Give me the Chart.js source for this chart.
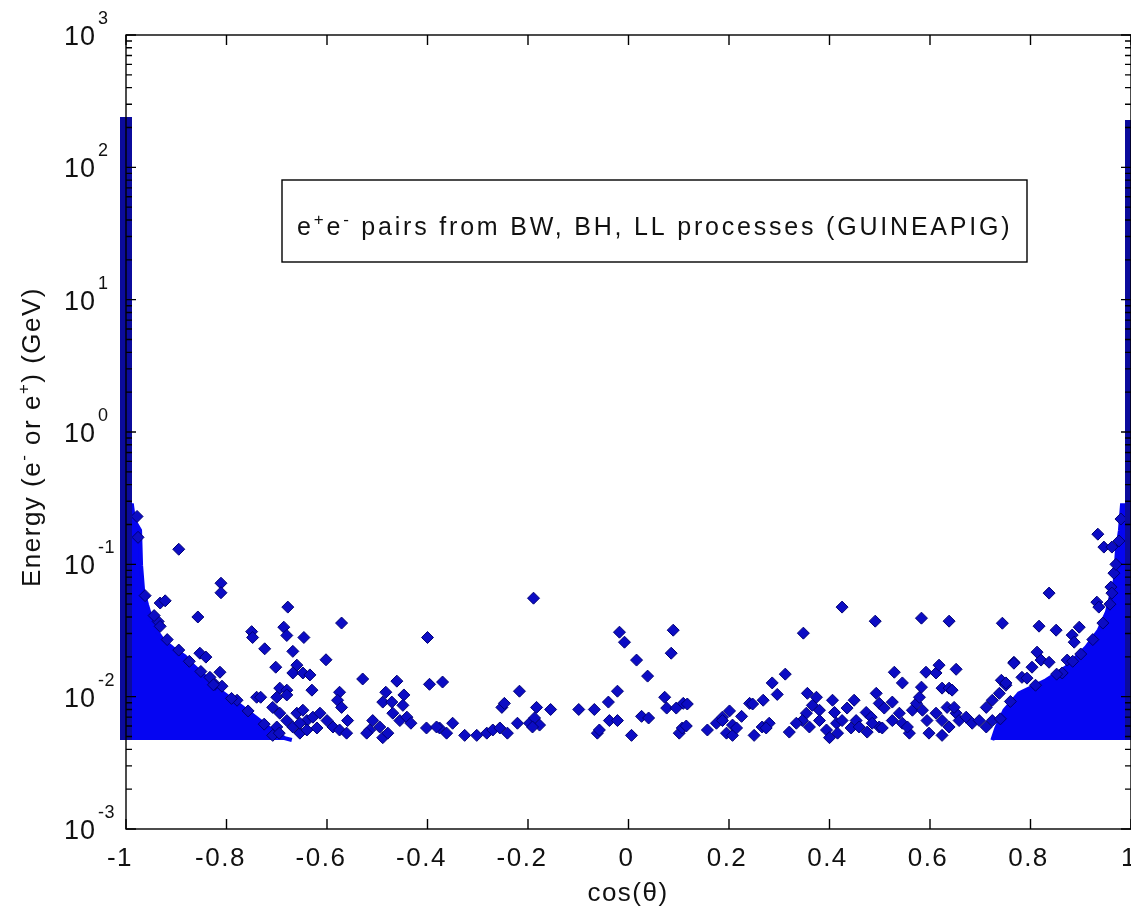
<!DOCTYPE html>
<html>
<head>
<meta charset="utf-8">
<script src="https://cdn.jsdelivr.net/npm/chart.js@4.4.0/dist/chart.umd.min.js"></script>
<style>
  html, body { margin: 0; padding: 0; background: #fff; overflow: hidden; }
  #wrap { width: 1138px; height: 916px; }
</style>
</head>
<body>
<div id="wrap"><canvas id="plot" width="1138" height="916"></canvas></div>
<script>
// tick values
const xTicks = [-1, -0.8, -0.6, -0.4, -0.2, 0, 0.2, 0.4, 0.6, 0.8, 1];
const yDecades = [-3, -2, -1, 0, 1, 2, 3];

// lowest energy reached by the markers (GeV)
const energyFloor = 0.0047;

// the two columns of points packed at cos = -1 and cos = +1
const spikeCos = [-1, 1];
const spikeTop = [240, 228];

// outline of the dense clouds near the beam axis  [cos, E]
const leftCloud = [
  [-1, 0.28], [-0.988, 0.28], [-0.984, 0.216], [-0.972, 0.181], [-0.970, 0.0986],
  [-0.966, 0.0638], [-0.958, 0.0492], [-0.948, 0.0366], [-0.936, 0.0302],
  [-0.926, 0.0267], [-0.907, 0.0233], [-0.883, 0.0202], [-0.867, 0.0173],
  [-0.839, 0.0138], [-0.809, 0.0108], [-0.773, 0.0086], [-0.740, 0.0069],
  [-0.710, 0.0056], [-0.684, 0.00485], [-0.670, 0.0047]
];
const rightCloud = [
  [0.724, 0.0047], [0.732, 0.0058], [0.748, 0.0079], [0.777, 0.0106], [0.831, 0.0133],
  [0.871, 0.0167], [0.911, 0.0237], [0.936, 0.0318], [0.952, 0.0435], [0.968, 0.076],
  [0.972, 0.128], [0.978, 0.181], [0.982, 0.28], [1, 0.28]
];

// individual pairs outside the clouds  [cos, E]
const leftTail = [
  [-0.895, 0.130], [-0.811, 0.072], [-0.811, 0.061], [-0.932, 0.051], [-0.922, 0.053],
  [-0.936, 0.037], [-0.932, 0.034], [-0.857, 0.040], [-0.678, 0.0475], [-0.571, 0.036],
  [-0.750, 0.031], [-0.748, 0.028], [-0.686, 0.0335], [-0.680, 0.029], [-0.646, 0.028],
  [-0.724, 0.023], [-0.668, 0.022], [-0.602, 0.019], [-0.702, 0.0167], [-0.660, 0.0173],
  [-0.668, 0.0151], [-0.648, 0.0151], [-0.634, 0.0146], [-0.400, 0.028], [-0.529, 0.0136],
  [-0.461, 0.0131], [-0.396, 0.0124], [-0.370, 0.0129], [-0.630, 0.0112], [-0.575, 0.0108],
  [-0.579, 0.0094], [-0.571, 0.0083], [-0.483, 0.0108], [-0.489, 0.0091], [-0.471, 0.0091],
  [-0.447, 0.0103], [-0.449, 0.0086], [-0.779, 0.0094], [-0.740, 0.0099], [-0.732, 0.0099],
  [-0.833, 0.0140], [-0.813, 0.0153], [-0.823, 0.0124], [-0.809, 0.0120], [-0.853, 0.0213],
  [-0.841, 0.0199], [-0.694, 0.0116], [-0.680, 0.0112], [-0.700, 0.0099], [-0.680, 0.0103],
  [-0.708, 0.0083], [-0.694, 0.0075], [-0.680, 0.0066], [-0.700, 0.0059], [-0.708, 0.0051],
  [-0.660, 0.0075], [-0.648, 0.0079], [-0.640, 0.0066], [-0.628, 0.0070], [-0.614, 0.0075],
  [-0.600, 0.0066], [-0.588, 0.0059], [-0.575, 0.0056], [-0.561, 0.0053], [-0.668, 0.0059],
  [-0.654, 0.0053], [-0.640, 0.0056], [-0.559, 0.0066], [-0.509, 0.0066], [-0.515, 0.0056],
  [-0.495, 0.0059], [-0.489, 0.0049], [-0.479, 0.0053], [-0.469, 0.0075], [-0.455, 0.0066],
  [-0.441, 0.0070], [-0.433, 0.0063], [-0.521, 0.0053], [-0.654, 0.0063], [-0.620, 0.0058],
  [-0.976, 0.16], [-0.978, 0.23], [-0.962, 0.058], [-0.944, 0.041], [-0.918, 0.027],
  [-0.895, 0.0225], [-0.874, 0.0185], [-0.851, 0.0155], [-0.826, 0.0123], [-0.790, 0.0097],
  [-0.757, 0.0078], [-0.725, 0.0062], [-0.695, 0.0053]
];
const centreBand = [
  [-0.189, 0.0555], [-0.402, 0.0058], [-0.376, 0.0058], [-0.362, 0.0053], [-0.350, 0.0063],
  [-0.382, 0.0059], [-0.326, 0.0051], [-0.302, 0.0051], [-0.282, 0.0053], [-0.270, 0.0056],
  [-0.256, 0.0058], [-0.241, 0.0053], [-0.221, 0.0063], [-0.197, 0.0063], [-0.187, 0.0069],
  [-0.177, 0.0061], [-0.191, 0.0059], [-0.217, 0.0110], [-0.252, 0.0083], [-0.247, 0.0089],
  [-0.183, 0.0083], [-0.155, 0.0080], [-0.099, 0.0080], [-0.068, 0.0080], [-0.040, 0.0091],
  [-0.022, 0.0110], [-0.018, 0.0307], [-0.008, 0.0258], [0.016, 0.0189], [0.038, 0.0143],
  [0.089, 0.0318], [0.085, 0.0213], [0.072, 0.0099], [0.076, 0.0082], [0.095, 0.0082],
  [0.109, 0.0089], [0.117, 0.0088], [-0.038, 0.0066], [-0.022, 0.0066], [0.026, 0.0071],
  [0.040, 0.0069], [-0.062, 0.0053], [-0.058, 0.0056], [0.006, 0.0051], [0.101, 0.0053],
  [0.107, 0.0058], [0.115, 0.0060], [0.157, 0.0056], [0.175, 0.0063], [0.187, 0.0070],
  [0.201, 0.0078], [0.195, 0.0053], [0.207, 0.0051], [0.225, 0.0071], [0.241, 0.0089]
];
const rightTail = [
  [0.425, 0.0475], [0.348, 0.0302], [0.491, 0.0372], [0.583, 0.0392], [0.638, 0.0372],
  [0.744, 0.0359], [0.837, 0.0606], [0.934, 0.169], [0.946, 0.135], [0.962, 0.135],
  [0.966, 0.0858], [0.960, 0.0673], [0.962, 0.0606], [0.932, 0.0518], [0.936, 0.0475],
  [0.817, 0.0341], [0.851, 0.0318], [0.883, 0.0292], [0.897, 0.0335], [0.887, 0.0258],
  [0.813, 0.0217], [0.821, 0.0189], [0.837, 0.0182], [0.803, 0.0167], [0.767, 0.0182],
  [0.783, 0.0140], [0.793, 0.0138], [0.742, 0.0133], [0.751, 0.0122], [0.873, 0.0189],
  [0.863, 0.0151], [0.312, 0.0148], [0.286, 0.0127], [0.296, 0.0104], [0.268, 0.0094],
  [0.247, 0.0088], [0.187, 0.0066], [0.207, 0.0061], [0.215, 0.0058], [0.250, 0.0051],
  [0.266, 0.0059], [0.280, 0.0063], [0.274, 0.0058], [0.320, 0.0054], [0.356, 0.0106],
  [0.374, 0.0099], [0.366, 0.0086], [0.354, 0.0075], [0.380, 0.0079], [0.346, 0.0066],
  [0.334, 0.0063], [0.360, 0.0059], [0.380, 0.0066], [0.394, 0.0056], [0.406, 0.0094],
  [0.410, 0.0076], [0.414, 0.0063], [0.425, 0.0066], [0.400, 0.0049], [0.416, 0.0053],
  [0.435, 0.0082], [0.449, 0.0094], [0.453, 0.0066], [0.443, 0.0058], [0.459, 0.0059],
  [0.473, 0.0076], [0.483, 0.0070], [0.493, 0.0106], [0.499, 0.0089], [0.509, 0.0082],
  [0.525, 0.0091], [0.499, 0.0059], [0.485, 0.0063], [0.475, 0.0054], [0.505, 0.0058],
  [0.525, 0.0066], [0.539, 0.0075], [0.545, 0.0063], [0.559, 0.0053], [0.555, 0.0059],
  [0.529, 0.0153], [0.545, 0.0127], [0.565, 0.0079], [0.573, 0.0089], [0.579, 0.0099],
  [0.583, 0.0118], [0.592, 0.0153], [0.612, 0.0151], [0.618, 0.0173], [0.585, 0.0079],
  [0.624, 0.0116], [0.638, 0.0116], [0.644, 0.0112], [0.652, 0.0161], [0.594, 0.0066],
  [0.612, 0.0075], [0.624, 0.0066], [0.638, 0.0059], [0.652, 0.0075], [0.658, 0.0066],
  [0.672, 0.0070], [0.684, 0.0063], [0.698, 0.0066], [0.712, 0.0059], [0.724, 0.0066],
  [0.598, 0.0053], [0.624, 0.0051], [0.712, 0.0083], [0.724, 0.0094], [0.738, 0.0106],
  [0.751, 0.0127], [0.767, 0.0179], [0.634, 0.0083], [0.648, 0.0083],
  [0.980, 0.22], [0.976, 0.15], [0.970, 0.10], [0.958, 0.050], [0.944, 0.036],
  [0.924, 0.027], [0.900, 0.021], [0.884, 0.0185], [0.852, 0.0148], [0.810, 0.0122],
  [0.760, 0.0092], [0.740, 0.0068]
];

const FONT = '"Liberation Sans", Arial, sans-serif';
const toXY = p => ({ x: p[0], y: p[1] });

function setFont(ctx, size, spacing) {
  ctx.font = size + 'px ' + FONT;
  ctx.letterSpacing = spacing + 'px';
}

// draws text pieces in a row, some as superscripts
function drawRich(ctx, parts, x, y, size, spacing) {
  let cx = x;
  parts.forEach(([txt, sup]) => {
    setFont(ctx, sup ? Math.round(size * 0.66) : size, spacing);
    ctx.fillText(txt, cx, sup ? y - size * 0.42 : y);
    cx += ctx.measureText(txt).width;
  });
  return cx - x;
}
function richWidth(ctx, parts, size, spacing) {
  let w = 0;
  parts.forEach(([txt, sup]) => {
    setFont(ctx, sup ? Math.round(size * 0.66) : size, spacing);
    w += ctx.measureText(txt).width;
  });
  return w;
}

const matlabAxes = {
  id: 'matlabAxes',
  afterDraw(chart) {
    const { ctx, chartArea: a, scales: { x, y } } = chart;
    ctx.save();
    ctx.strokeStyle = '#000';
    ctx.lineWidth = 1.4;
    ctx.strokeRect(a.left, a.top, a.right - a.left, a.bottom - a.top);

    ctx.beginPath();
    xTicks.forEach(v => {
      const px = x.getPixelForValue(v);
      ctx.moveTo(px, a.bottom); ctx.lineTo(px, a.bottom - 10);
      ctx.moveTo(px, a.top); ctx.lineTo(px, a.top + 10);
    });
    yDecades.forEach(d => {
      const py = y.getPixelForValue(Math.pow(10, d));
      ctx.moveTo(a.left, py); ctx.lineTo(a.left + 10, py);
      ctx.moveTo(a.right, py); ctx.lineTo(a.right - 10, py);
      if (d < 3) {
        for (let m = 2; m <= 9; m++) {
          const pm = y.getPixelForValue(m * Math.pow(10, d));
          ctx.moveTo(a.left, pm); ctx.lineTo(a.left + 6, pm);
          ctx.moveTo(a.right, pm); ctx.lineTo(a.right - 6, pm);
        }
      }
    });
    ctx.stroke();

    ctx.fillStyle = '#111';
    ctx.textBaseline = 'alphabetic';
    // x tick labels
    setFont(ctx, 26, 1.5);
    ctx.textAlign = 'center';
    xTicks.forEach(v => {
      ctx.fillText(String(v), x.getPixelForValue(v) - (v < 0 ? 6 : 2), 866);
    });
    // y tick labels
    yDecades.forEach(d => {
      const py = y.getPixelForValue(Math.pow(10, d));
      setFont(ctx, 27, 1);
      ctx.textAlign = 'right';
      ctx.fillText('10', 96, py + 10);
      setFont(ctx, 18, 0.5);
      ctx.textAlign = 'left';
      ctx.fillText(String(d), 98, py - 11);
    });

    // axis titles
    setFont(ctx, 26, 1.5);
    ctx.textAlign = 'center';
    ctx.fillText('cos(\u03b8)', 628, 901);

    ctx.textAlign = 'left';
    const yTitle = [['Energy (e', false], ['-', true], [' or e', false], ['+', true], [') (GeV)', false]];
    const tw = richWidth(ctx, yTitle, 26, 1.5);
    ctx.save();
    ctx.translate(40, 437);
    ctx.rotate(-Math.PI / 2);
    drawRich(ctx, yTitle, -tw / 2, 0, 26, 1.5);
    ctx.restore();

    // annotation box
    ctx.fillStyle = '#fff';
    ctx.fillRect(282, 180, 745, 82);
    ctx.strokeRect(282, 180, 745, 82);
    ctx.fillStyle = '#111';
    const note = [['e', false], ['+', true], ['e', false], ['-', true],
      [' pairs from BW, BH, LL processes (GUINEAPIG)', false]];
    drawRich(ctx, note, 297, 235, 25, 2.8);
    ctx.restore();
  }
};

const marker = {
  type: 'scatter',
  pointStyle: 'rectRot',
  pointRadius: 6,
  backgroundColor: '#0c0cc4',
  borderColor: '#000075',
  borderWidth: 1,
  order: 1
};
const cloud = {
  type: 'line',
  pointRadius: 0,
  borderWidth: 4,
  borderColor: '#0505f2',
  backgroundColor: '#0505f2',
  fill: { value: energyFloor },
  order: 2
};

const spikes = spikeCos.map((c, i) => ({
  type: 'line',
  data: [{ x: c, y: energyFloor }, { x: c, y: spikeTop[i] }],
  borderColor: '#0b0b9c',
  borderWidth: 12,
  borderCapStyle: 'butt',
  pointRadius: 0,
  clip: false,
  order: 0
}));

new Chart(document.getElementById('plot'), {
  type: 'scatter',
  data: {
    datasets: [
      Object.assign({ data: leftCloud.map(toXY) }, cloud),
      Object.assign({ data: rightCloud.map(toXY) }, cloud),
      Object.assign({ data: leftTail.concat(centreBand, rightTail).map(toXY) }, marker),
      ...spikes
    ]
  },
  options: {
    responsive: false,
    animation: false,
    events: [],
    layout: { padding: { left: 126, top: 35, right: 6, bottom: 87 } },
    plugins: { legend: { display: false }, tooltip: { enabled: false } },
    scales: {
      x: { type: 'linear', min: -1, max: 1, display: false },
      y: { type: 'logarithmic', min: 0.001, max: 1000, display: false }
    }
  },
  plugins: [matlabAxes]
});
</script>
</body>
</html>
